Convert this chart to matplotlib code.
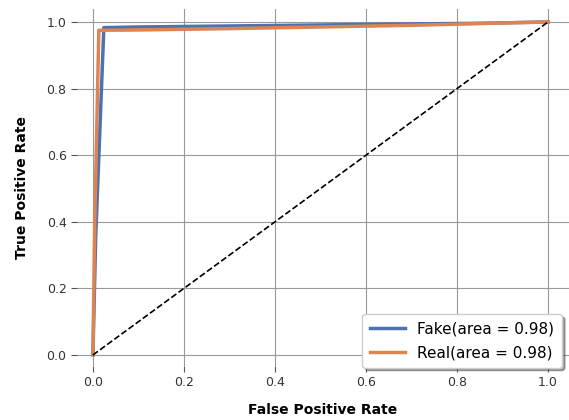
import matplotlib
matplotlib.use('Agg')
import matplotlib.pyplot as plt

fake_fpr = [0.0, 0.006, 0.024, 0.1, 0.3, 0.5, 0.7, 0.85, 1.0]
fake_tpr = [0.0, 0.35, 0.983, 0.985, 0.988, 0.991, 0.994, 0.996, 1.0]
real_fpr = [0.0, 0.004, 0.013, 0.1, 0.3, 0.5, 0.7, 0.9, 1.0]
real_tpr = [0.0, 0.4, 0.975, 0.976, 0.98, 0.985, 0.99, 0.997, 1.0]
fake_auc = 0.98
real_auc = 0.98

fig = plt.figure(figsize=(5.69, 4.2), dpi=100)
ax = fig.add_axes([0.1353, 0.1286, 0.8647, 0.85])
ax.plot(fake_fpr, fake_tpr, color='#4C72B0', linewidth=2.5, label='Fake(area = %0.2f)' % fake_auc)
ax.plot(real_fpr, real_tpr, color='#DD8452', linewidth=2.5, label='Real(area = %0.2f)' % real_auc)
ax.plot([0, 1], [0, 1], 'k--', linewidth=1.2)

ax.set_xlim(-0.035, 1.046)
ax.set_ylim(-0.033, 1.039)
ax.set_xticks([0, 0.2, 0.4, 0.6, 0.8, 1.0])
ax.set_yticks([0, 0.2, 0.4, 0.6, 0.8, 1.0])
ax.set_xlabel('False Positive Rate', fontweight='bold', fontsize=10, labelpad=10)
ax.set_ylabel('True Positive Rate', fontweight='bold', fontsize=10, labelpad=13)
for s in ax.spines.values():
    s.set_visible(False)
ax.grid(True, color='#999999', linewidth=0.8)
ax.tick_params(colors='#555555', labelcolor='#333333', length=4, labelsize=9)
ax.set_axisbelow(True)
leg = ax.legend(loc='lower right', bbox_to_anchor=(0.986, -0.005), fontsize=11, shadow=True,
                fancybox=True, framealpha=1, borderpad=0.5, borderaxespad=0,
                handlelength=2.3, labelspacing=0.55)
plt.savefig('out.png', dpi=100)
